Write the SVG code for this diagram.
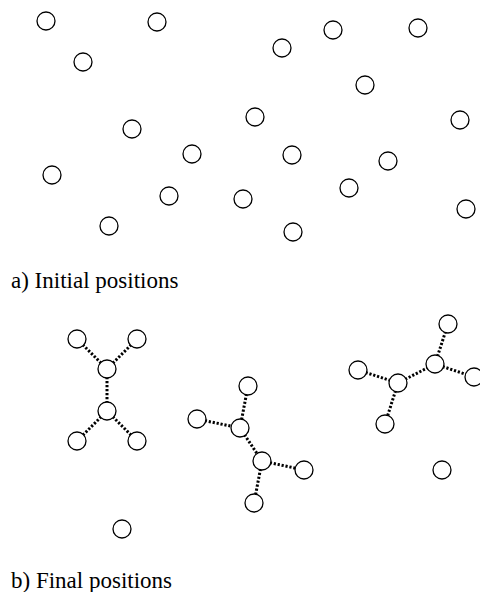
<svg xmlns="http://www.w3.org/2000/svg" width="480" height="592" viewBox="0 0 480 592">
<style>
.n circle{fill:#fff;stroke:#000;stroke-width:1.3}
.c line{stroke:#000;stroke-width:3;stroke-dasharray:2.2 1.8}
.t{font-family:"Liberation Serif","Times New Roman",serif;font-size:23px;fill:#000}
</style>
<rect width="480" height="592" fill="#fff"/>
<g id="initial" class="n">
<g id="i1"><circle cx="46" cy="21" r="9"/></g>
<g id="i2"><circle cx="157" cy="22" r="9"/></g>
<g id="i3"><circle cx="83" cy="62" r="9"/></g>
<g id="i4"><circle cx="282" cy="48" r="9"/></g>
<g id="i5"><circle cx="333" cy="30" r="9"/></g>
<g id="i6"><circle cx="418" cy="28" r="9"/></g>
<g id="i7"><circle cx="365" cy="85" r="9"/></g>
<g id="i8"><circle cx="255" cy="117" r="9"/></g>
<g id="i9"><circle cx="460" cy="120" r="9"/></g>
<g id="i10"><circle cx="132" cy="129" r="9"/></g>
<g id="i11"><circle cx="192" cy="154" r="9"/></g>
<g id="i12"><circle cx="292" cy="155" r="9"/></g>
<g id="i13"><circle cx="388" cy="161" r="9"/></g>
<g id="i14"><circle cx="52" cy="175" r="9"/></g>
<g id="i15"><circle cx="169" cy="196" r="9"/></g>
<g id="i16"><circle cx="243" cy="199" r="9"/></g>
<g id="i17"><circle cx="349" cy="188" r="9"/></g>
<g id="i18"><circle cx="466" cy="209" r="9"/></g>
<g id="i19"><circle cx="109" cy="226" r="9"/></g>
<g id="i20"><circle cx="293" cy="232" r="9"/></g>
</g>
<text class="t" x="11" y="288">a) Initial positions</text>
<g id="connectors" class="c">
<line x1="77" y1="339" x2="107" y2="369"/>
<line x1="137" y1="339" x2="107" y2="369"/>
<line x1="107" y1="369" x2="107" y2="411"/>
<line x1="107" y1="411" x2="77" y2="441"/>
<line x1="107" y1="411" x2="137" y2="441"/>
<line x1="197" y1="419" x2="240" y2="428"/>
<line x1="248" y1="386" x2="240" y2="428"/>
<line x1="240" y1="428" x2="262" y2="461"/>
<line x1="262" y1="461" x2="304" y2="470"/>
<line x1="262" y1="461" x2="254" y2="503"/>
<line x1="358" y1="370" x2="398" y2="383"/>
<line x1="398" y1="383" x2="385" y2="424"/>
<line x1="398" y1="383" x2="435" y2="364"/>
<line x1="435" y1="364" x2="448" y2="324"/>
<line x1="435" y1="364" x2="474" y2="377"/>
</g>
<g id="final" class="n">
<g id="f1"><circle cx="77" cy="339" r="9"/></g>
<g id="f2"><circle cx="137" cy="339" r="9"/></g>
<g id="f3"><circle cx="107" cy="369" r="9"/></g>
<g id="f4"><circle cx="107" cy="411" r="9"/></g>
<g id="f5"><circle cx="77" cy="441" r="9"/></g>
<g id="f6"><circle cx="137" cy="441" r="9"/></g>
<g id="f7"><circle cx="197" cy="419" r="9"/></g>
<g id="f8"><circle cx="248" cy="386" r="9"/></g>
<g id="f9"><circle cx="240" cy="428" r="9"/></g>
<g id="f10"><circle cx="262" cy="461" r="9"/></g>
<g id="f11"><circle cx="304" cy="470" r="9"/></g>
<g id="f12"><circle cx="254" cy="503" r="9"/></g>
<g id="f13"><circle cx="358" cy="370" r="9"/></g>
<g id="f14"><circle cx="398" cy="383" r="9"/></g>
<g id="f15"><circle cx="385" cy="424" r="9"/></g>
<g id="f16"><circle cx="435" cy="364" r="9"/></g>
<g id="f17"><circle cx="448" cy="324" r="9"/></g>
<g id="f18"><circle cx="474" cy="377" r="9"/></g>
<g id="f19"><circle cx="442" cy="470" r="9"/></g>
<g id="f20"><circle cx="122" cy="529" r="9"/></g>
</g>
<text class="t" x="11" y="588">b) Final positions</text>
</svg>
